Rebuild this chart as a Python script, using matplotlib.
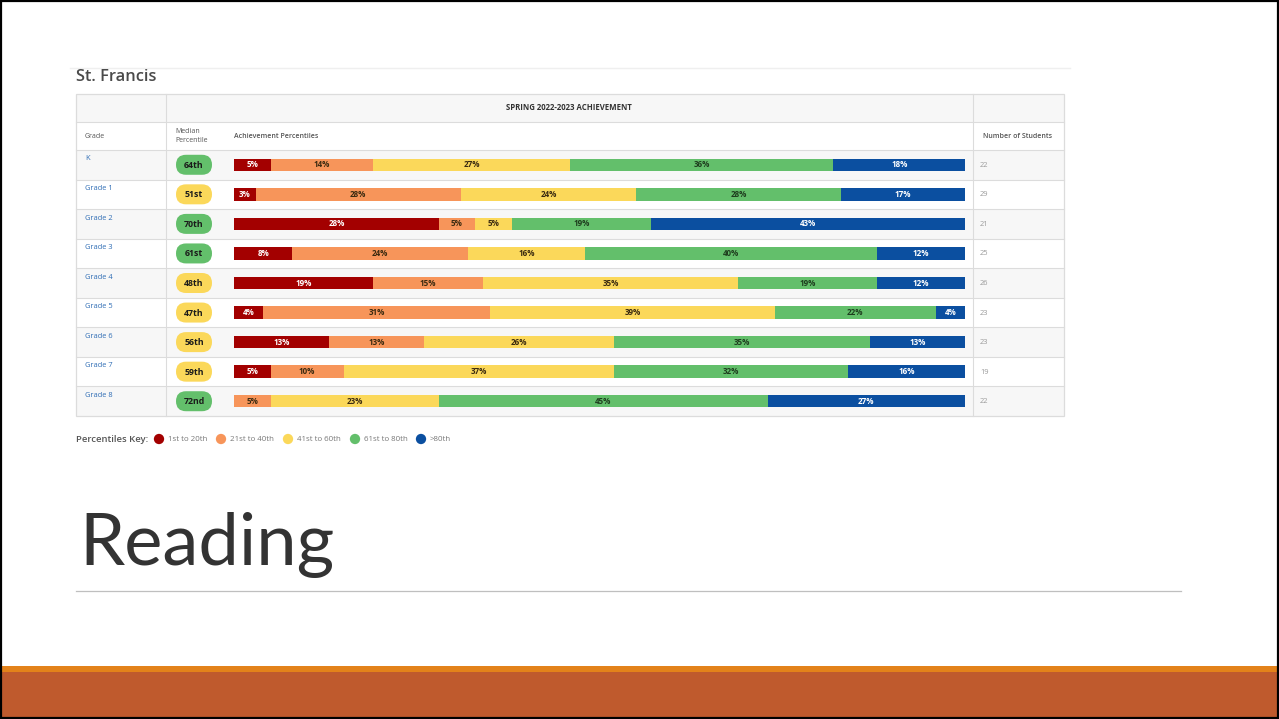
import matplotlib.pyplot as plt
from matplotlib.patches import Rectangle, FancyBboxPatch
import numpy as np

# ---- data ----
grades = ['K', 'Grade 1', 'Grade 2', 'Grade 3', 'Grade 4', 'Grade 5', 'Grade 6', 'Grade 7', 'Grade 8']
medians = ['64th', '51st', '70th', '61st', '48th', '47th', '56th', '59th', '72nd']
median_vals = [64, 51, 70, 61, 48, 47, 56, 59, 72]
students = [22, 29, 21, 25, 26, 23, 23, 19, 22]
bands = ['1st to 20th', '21st to 40th', '41st to 60th', '61st to 80th', '>80th']
pct_1_20 = [5, 3, 28, 8, 19, 4, 13, 5, 0]
pct_21_40 = [14, 28, 5, 24, 15, 31, 13, 10, 5]
pct_41_60 = [27, 24, 5, 16, 35, 39, 26, 37, 23]
pct_61_80 = [36, 28, 19, 40, 19, 22, 35, 32, 45]
pct_80_up = [18, 17, 43, 12, 12, 4, 13, 16, 27]

band_colors = ['#a30000', '#f7955a', '#fbd85a', '#63bf6b', '#0b4fa0']
label_colors = ['white', '#3a2a10', '#3a2a10', '#1e3d1e', 'white']

W, H = 1279, 719
fig = plt.figure(figsize=(W / 100, H / 100), dpi=100)
fig.patch.set_facecolor('white')
plt.rcParams['font.family'] = ['Open Sans', 'DejaVu Sans']

# canvas axes in pixel coordinates
cv = fig.add_axes([0, 0, 1, 1])
cv.set_xlim(0, W)
cv.set_ylim(H, 0)
cv.axis('off')

# table geometry (pixels)
tx0, tx1 = 76, 1064
col1, col2 = 166, 973
ty0, th1, th2, tb0, tb1 = 94, 122, 150, 150, 416
row_h = (tb1 - tb0) / len(grades)
line_c = '#dcdcdc'

# faint line above title
cv.plot([70, 1070], [68, 68], color='#efefef', lw=1)
cv.text(76, 77, 'St. Francis', fontsize=11.8, fontweight='semibold', color='#4a4a4a',
        va='center', ha='left')

# header backgrounds
cv.add_patch(Rectangle((tx0, ty0), tx1 - tx0, th1 - ty0, facecolor='#f7f7f7', edgecolor='none'))
for i in range(len(grades)):
    y = tb0 + i * row_h
    fc = '#f7f7f7' if i % 2 == 0 else 'white'
    cv.add_patch(Rectangle((tx0, y), tx1 - tx0, row_h, facecolor=fc, edgecolor='none'))
    cv.plot([tx0, tx1], [y, y], color=line_c, lw=0.8)
cv.plot([tx0, tx1], [th1, th1], color=line_c, lw=0.8)
cv.add_patch(Rectangle((tx0, ty0), tx1 - tx0, tb1 - ty0, facecolor='none', edgecolor=line_c, lw=0.9))
for xc in (col1, col2):
    cv.plot([xc, xc], [ty0, tb1], color=line_c, lw=0.8)

cv.text((col1 + col2) / 2 - 1, 108, 'SPRING 2022-2023 ACHIEVEMENT', fontsize=5.6,
        fontweight='bold', color='#333333', ha='center', va='center')
hdr_c = '#555555'
cv.text(85, 136, 'Grade', fontsize=5, color=hdr_c, ha='left', va='center')
cv.text(175, 136, 'Median\nPercentile', fontsize=5, color=hdr_c, ha='left', va='center',
        linespacing=1.3)
cv.text(234, 136, 'Achievement Percentiles', fontsize=5, color=hdr_c, fontweight='semibold',
        ha='left', va='center')
cv.text(983, 136, 'Number of Students', fontsize=5, color=hdr_c, fontweight='semibold',
        ha='left', va='center')

# grade labels, median pills, student counts
for i, g in enumerate(grades):
    yc = tb0 + (i + 0.5) * row_h
    cv.text(85, tb0 + i * row_h + 9, g, fontsize=5.4, color='#2f6db5', ha='left', va='center')
    pill_c = '#63bf6b' if median_vals[i] >= 60 else '#fbd85a'
    cv.add_patch(FancyBboxPatch((176, yc - 10), 36, 20,
                                boxstyle='round,pad=0,rounding_size=10',
                                facecolor=pill_c, edgecolor='none'))
    cv.text(194, yc + 0.5, medians[i], fontsize=6.3, fontweight='bold', color='#1a1a1a',
            ha='center', va='center')
    cv.text(980, yc + 0.5, str(students[i]), fontsize=5.4, color='#999999',
            ha='left', va='center')

# stacked bars in their own axes (0-100 %)
bx0, bx1 = 234, 965
bax = fig.add_axes([bx0 / W, 1 - tb1 / H, (bx1 - bx0) / W, (tb1 - tb0) / H])
bax.set_xlim(0, 100)
bax.set_ylim(len(grades) - 0.5, -0.5)
bax.axis('off')
series = [pct_1_20, pct_21_40, pct_41_60, pct_61_80, pct_80_up]
ypos = np.arange(len(grades))
left = np.zeros(len(grades))
for k, vals in enumerate(series):
    vals = np.array(vals, dtype=float)
    bars = bax.barh(ypos, vals, left=left, height=12.5 / row_h, color=band_colors[k],
                    edgecolor='none')
    labels = [f'{int(v)}%' if v > 0 else '' for v in vals]
    bax.bar_label(bars, labels=labels, label_type='center', fontsize=5.8,
                  fontweight='bold', color=label_colors[k])
    left += vals

# percentiles key
cv.text(76, 439, 'Percentiles Key:', fontsize=6.8, fontweight='semibold', color='#555555',
        ha='left', va='center')
key_x = [159, 221, 288, 355, 421]
for k, name in enumerate(bands):
    cv.scatter([key_x[k]], [439], s=55, color=band_colors[k], edgecolors='none')
    cv.text(key_x[k] + 9, 439.5, name, fontsize=5.7, color='#777777', ha='left', va='center')

# slide title and rule
cv.text(79, 565, 'Reading', fontsize=52, fontweight='normal', family=['Lato', 'DejaVu Sans'],
        color='#333333', ha='left', va='baseline')
cv.plot([76, 1181], [591, 591], color='#bfbfbf', lw=0.9)

# bottom orange band
cv.add_patch(Rectangle((0, 666), W, 6, facecolor='#e3821a', edgecolor='none'))
cv.add_patch(Rectangle((0, 672), W, H - 672, facecolor='#bf5a2d', edgecolor='none'))

# slide border
cv.add_patch(Rectangle((1, 1), W - 2, H - 2, facecolor='none', edgecolor='black', lw=1.6))

fig.savefig('out.png', dpi=100)
